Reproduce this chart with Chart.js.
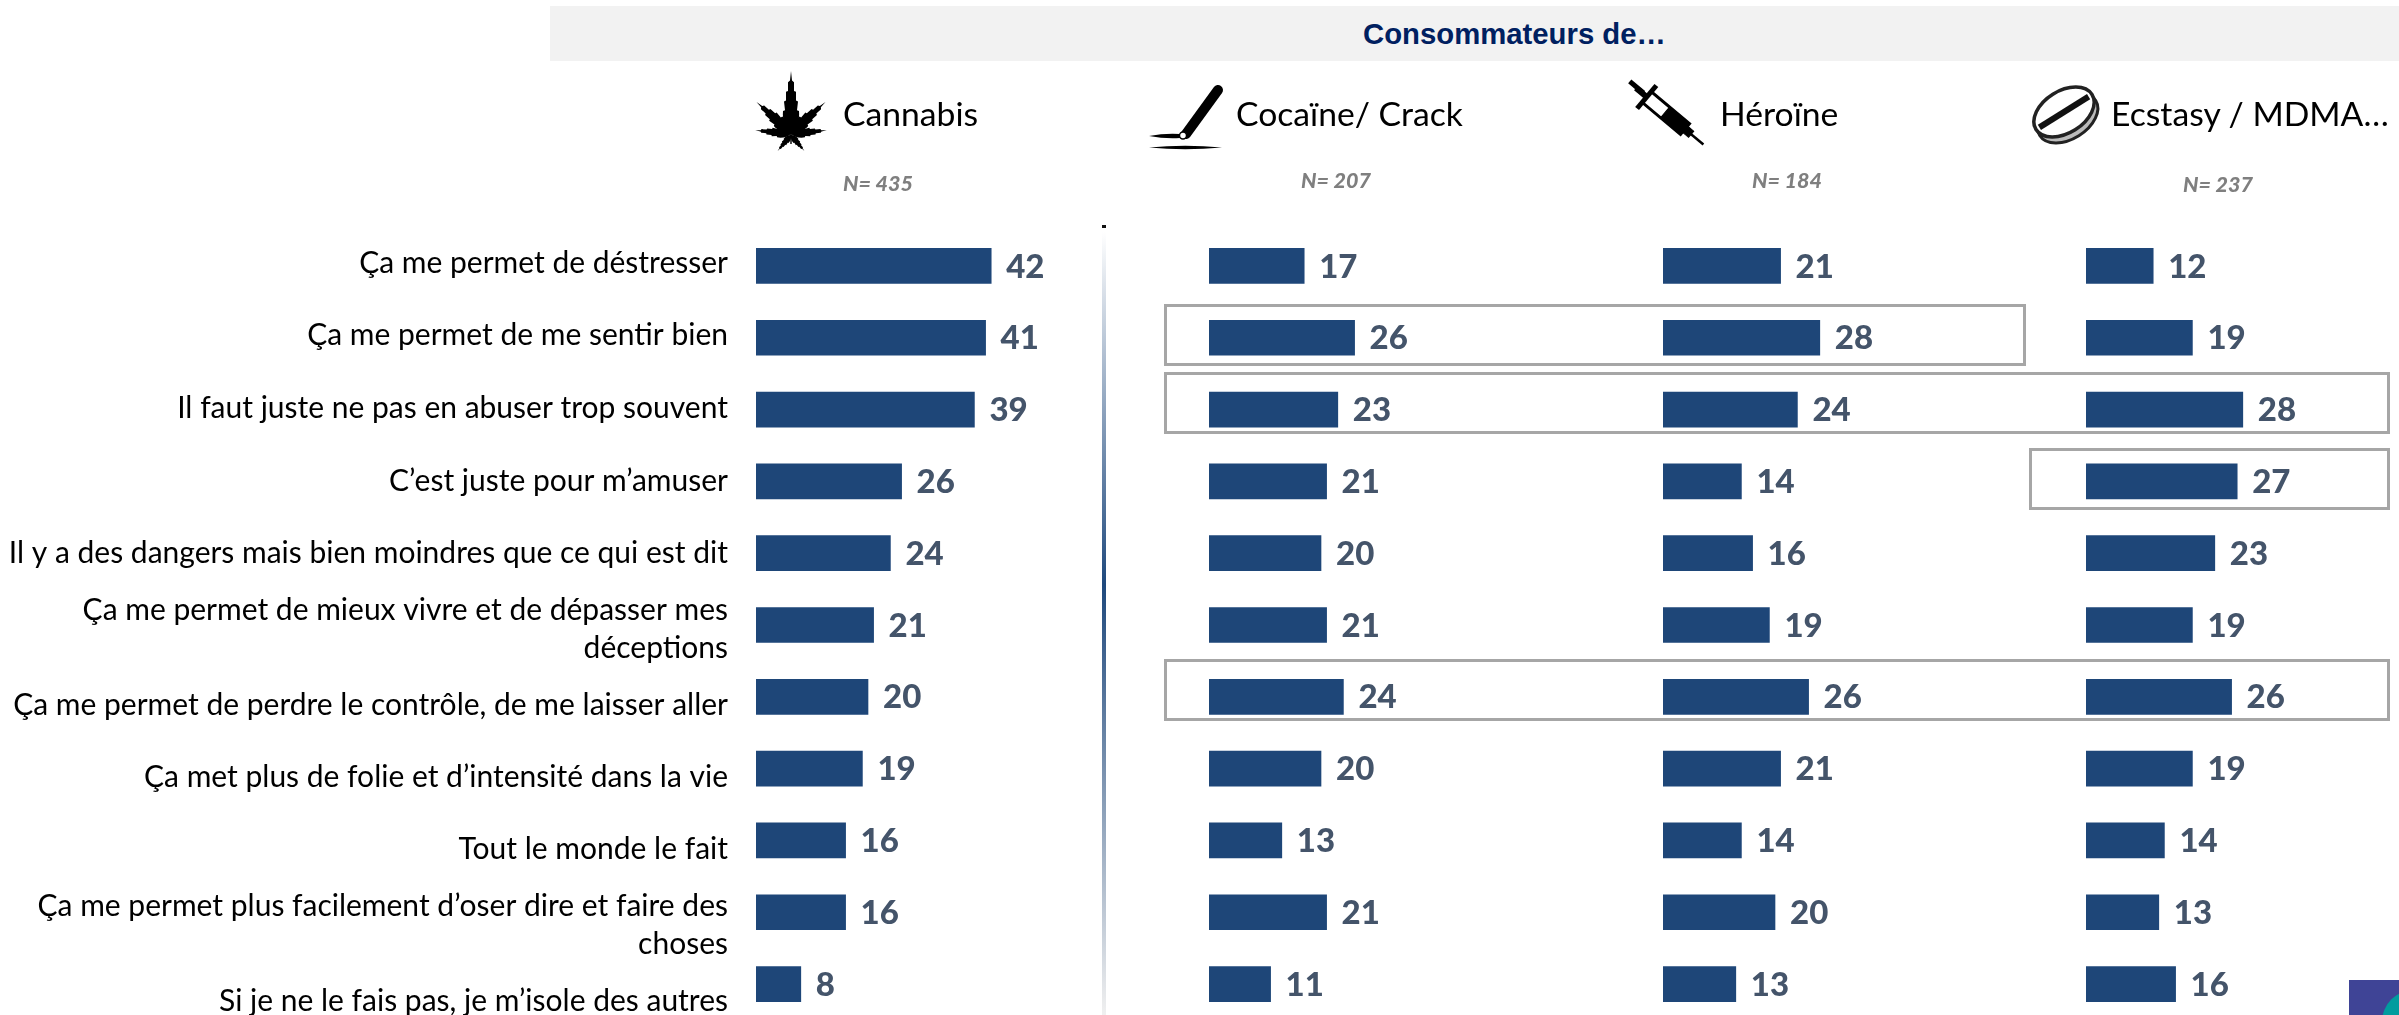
<!DOCTYPE html>
<html lang="fr">
  <head>
    <meta charset="UTF-8">
    <title>Consommateurs de…</title>
    <style>
      html, body { margin: 0; padding: 0; background: #fff; overflow: hidden; }
      #page { position: relative; width: 2399px; height: 1015px; overflow: hidden; font-family: Lato, sans-serif; }
      #page > * { position: absolute; }
      canvas { display: block; }
      #band { left: 550px; top: 6px; width: 1849px; height: 55px; background: #f2f2f2; }
      #title { left: 1363px; top: 17px; font: bold 29.3px "Liberation Sans", Arial, sans-serif; line-height: 34px; color: #002060; white-space: nowrap; }
      .name { top: 91px; font-size: 33.7px; line-height: 44px; color: #000; white-space: nowrap; }
      .count { font-size: 21.5px; line-height: 24px; font-weight: 900; font-style: italic; color: #7f7f7f; white-space: nowrap; }
      .box { border: 3px solid #a6a6a6; box-sizing: border-box; }
      #divider { left: 1102px; top: 232px; width: 4px; height: 783px;
        background: linear-gradient(to bottom, #ffffff 0%, #1f497d 45%, #f0f0f0 100%); }
      #tick { left: 1102px; top: 225px; width: 4px; height: 3px; background: #111; }
    </style>
  </head>
  <body>
    <div id="page">
      <div id="band"></div>
      <div id="title">Consommateurs de…</div>

      <div id="divider"></div>
      <div id="tick"></div>

      <canvas id="chart0"></canvas>
      <canvas id="chart1"></canvas>
      <canvas id="chart2"></canvas>
      <canvas id="chart3"></canvas>

      <div class="box" style="left:1164px;top:304px;width:862px;height:62px"></div>
      <div class="box" style="left:1164px;top:372px;width:1226px;height:62px"></div>
      <div class="box" style="left:2029px;top:448px;width:361px;height:62px"></div>
      <div class="box" style="left:1164px;top:659px;width:1226px;height:62px"></div>

      <!-- icons -->
      <svg style="left:0;top:0" width="2399" height="1015" viewBox="0 0 2399 1015">
        <defs>
          <path id="leaf" d="M0 0 C-5 -6 -9 -18 -8 -30 L-6 -31 L-7 -42 L-5 -43 L-5 -54 L-3 -55 L-3 -66 L-1 -68 L0 -80 L1 -68 L3 -66 L3 -55 L5 -54 L5 -43 L7 -42 L6 -31 L8 -30 C9 -18 5 -6 0 0 Z"/>
        </defs>
        <g fill="#000">
          <use href="#leaf" transform="translate(791 135) scale(1 .8)"/>
          <use href="#leaf" transform="translate(791 133) rotate(-48) scale(.8 .58)"/>
          <use href="#leaf" transform="translate(791 133) rotate(48) scale(.8 .58)"/>
          <use href="#leaf" transform="translate(791 134) rotate(-84) scale(.6 .45)"/>
          <use href="#leaf" transform="translate(791 134) rotate(84) scale(.6 .45)"/>
          <use href="#leaf" transform="translate(791 135) rotate(-140) scale(.4 .26)"/>
          <use href="#leaf" transform="translate(791 135) rotate(140) scale(.4 .26)"/>
          <rect x="790.3" y="130" width="1.4" height="14"/>
        </g>
        <g>
          <path d="M1149 136 Q1165 133 1180 134 L1180 138 Q1165 139 1149 136 Z" fill="#000"/>
          <path d="M1149 147.500 Q1185 144 1222 147.500 Q1185 151 1149 147.500 Z" fill="#000"/>
          <line x1="1218" y1="90" x2="1186" y2="134" stroke="#000" stroke-width="10" stroke-linecap="round"/>
          <circle cx="1183" cy="135.500" r="3.500" fill="#fff" stroke="#000" stroke-width="1.500"/>
        </g>
        <g stroke="#000" fill="none" transform="translate(1636 88) rotate(40)">
          <line x1="-9" y1="-1" x2="9" y2="-1" stroke-width="5"/>
          <line x1="0" y1="0" x2="14" y2="0" stroke-width="6"/>
          <line x1="14" y1="-15" x2="14" y2="15" stroke-width="5"/>
          <rect x="14" y="-7" width="50" height="14" stroke-width="3"/>
          <rect x="38" y="-7" width="26" height="14" fill="#000" stroke-width="1"/>
          <rect x="64" y="-4" width="8" height="8" fill="#000" stroke-width="1"/>
          <line x1="70" y1="0" x2="88" y2="0" stroke-width="2.500"/>
        </g>
        <g transform="translate(2064 112) rotate(-32)" fill="none" stroke="#222">
          <ellipse cx="0" cy="7" rx="33" ry="21" stroke-width="3" fill="#bbb"/>
          <ellipse cx="0" cy="0" rx="33" ry="21" stroke-width="3.500" fill="#fff"/>
          <line x1="-29" y1="0" x2="29" y2="0" stroke-width="6" stroke="#111"/>
        </g>
        <rect x="2349" y="980" width="50" height="35" fill="#3f4496"/>
        <circle cx="2414" cy="1022" r="32" fill="#009c9e"/>
      </svg>
    </div>

    <script src="https://cdn.jsdelivr.net/npm/chart.js"></script>
    <script>
      const categories = [
        "Ça me permet de déstresser",
        "Ça me permet de me sentir bien",
        "Il faut juste ne pas en abuser trop souvent",
        "C’est juste pour m’amuser",
        "Il y a des dangers mais bien moindres que ce qui est dit",
        ["Ça me permet de mieux vivre et de dépasser mes", "déceptions"],
        "Ça me permet de perdre le contrôle, de me laisser aller",
        "Ça met plus de folie et d’intensité dans la vie",
        "Tout le monde le fait",
        ["Ça me permet plus facilement d’oser dire et faire des", "choses"],
        "Si je ne le fais pas, je m’isole des autres"
      ];
      const cannabis = [42, 41, 39, 26, 24, 21, 20, 19, 16, 16, 8];
      const cocaine = [17, 26, 23, 21, 20, 21, 24, 20, 13, 21, 11];
      const heroine = [21, 28, 24, 14, 16, 19, 26, 21, 14, 20, 13];
      const ecstasy = [12, 19, 28, 27, 23, 19, 26, 19, 14, 13, 16];
      const seriesNames = ["Cannabis", "Cocaïne/ Crack", "Héroïne", "Ecstasy / MDMA…"];
      const sampleSizes = ["N= 435", "N= 207", "N= 184", "N= 237"];

      // layout
      const columnLeft = [756, 1209, 1663, 2086];
      const nameLeft = [843, 1236, 1720, 2111];
      const countLeft = [843, 1301, 1752, 2183];
      const countTop = [171, 168, 168, 172];
      const labelShift = [-2.5, -2.5, -1.5, -0.5, 0.5, 4.5, 8.5, 8.5, 8.5, 13.5, 17.5];
      const PLOT_WIDTH = 308;
      const PLOT_TOP = 230;
      const PLOT_HEIGHT = 790;
      const X_MAX = 55;
      const LABEL_AREA = 756;

      const page = document.getElementById("page");
      seriesNames.forEach(function (name, i) {
        const el = document.createElement("div");
        el.className = "name";
        el.style.left = nameLeft[i] + "px";
        el.textContent = name;
        page.appendChild(el);
        const n = document.createElement("div");
        n.className = "count";
        n.style.left = countLeft[i] + "px";
        n.style.top = countTop[i] + "px";
        n.textContent = sampleSizes[i];
        page.appendChild(n);
      });

      const valueLabels = {
        id: "valueLabels",
        afterDatasetsDraw(chart) {
          const ctx = chart.ctx;
          const meta = chart.getDatasetMeta(0);
          ctx.save();
          ctx.font = "900 33px Lato";
          ctx.fillStyle = "#44546a";
          ctx.textBaseline = "middle";
          meta.data.forEach(function (bar, i) {
            ctx.fillText(chart.data.datasets[0].data[i], bar.x + 15, bar.y + 1);
          });
          ctx.restore();
        }
      };

      const categoryLabels = {
        id: "categoryLabels",
        afterDraw(chart) {
          const ctx = chart.ctx;
          const y = chart.scales.y;
          ctx.save();
          ctx.font = "30px Lato";
          ctx.fillStyle = "#000";
          ctx.textAlign = "right";
          ctx.textBaseline = "middle";
          categories.forEach(function (label, i) {
            const lines = [].concat(label);
            const mid = y.getPixelForValue(i) + labelShift[i];
            lines.forEach(function (line, k) {
              ctx.fillText(line, LABEL_AREA - 28, mid + (k - (lines.length - 1) / 2) * 38);
            });
          });
          ctx.restore();
        }
      };

      function drawColumn(index, values, label) {
        const canvas = document.getElementById("chart" + index);
        const first = index === 0;
        const left = first ? 0 : columnLeft[index];
        canvas.style.left = left + "px";
        canvas.style.top = PLOT_TOP + "px";
        canvas.style.position = "absolute";
        canvas.width = PLOT_WIDTH + (first ? LABEL_AREA : 0);
        canvas.height = PLOT_HEIGHT;
        new Chart(canvas, {
          type: "bar",
          data: {
            labels: categories,
            datasets: [{
              label: label,
              data: values,
              backgroundColor: "#1e4678",
              barThickness: 35,
              borderWidth: 0
            }]
          },
          options: {
            indexAxis: "y",
            responsive: false,
            animation: false,
            layout: { padding: { left: first ? LABEL_AREA : 0 } },
            plugins: { legend: { display: false }, tooltip: { enabled: false } },
            scales: {
              x: { display: false, min: 0, max: X_MAX },
              y: { display: false }
            }
          },
          plugins: first ? [valueLabels, categoryLabels] : [valueLabels]
        });
      }

      drawColumn(0, cannabis, seriesNames[0]);
      drawColumn(1, cocaine, seriesNames[1]);
      drawColumn(2, heroine, seriesNames[2]);
      drawColumn(3, ecstasy, seriesNames[3]);
    </script>
  </body>
</html>
